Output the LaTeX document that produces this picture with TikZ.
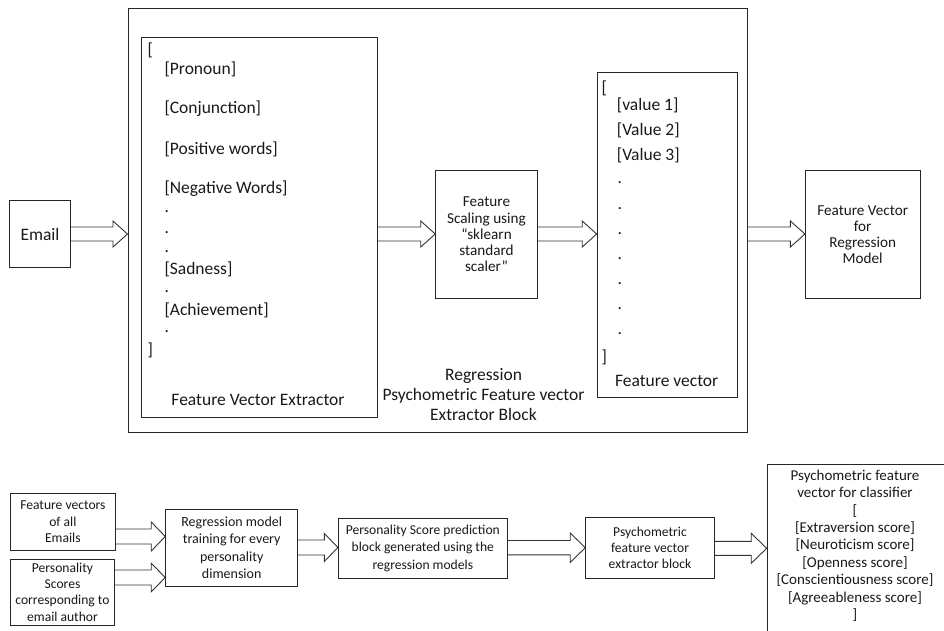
\documentclass[tikz,border=0pt]{standalone}
\usepackage{fontspec}
\setmainfont{Carlito}
\usetikzlibrary{calc}
\tikzset{
  box/.style={draw=black!85, line width=0.9pt, inner sep=0pt, align=center, text=black!90},
  txt/.style={inner sep=0pt, text=black!90},
  fatarr/.style={draw=black!80, line width=0.9pt, line join=miter},
}
% #1 start, #2 end, #3 shaft half width, #4 head half width, #5 head length
\newcommand\fatconn[5]{%
  \draw[fatarr] let \p1=#1, \p2=#2 in
    (\x1,\y2+#3) -- (\x2-#5,\y2+#3) -- (\x2-#5,\y2+#4) -- (\x2,\y2)
    -- (\x2-#5,\y2-#4) -- (\x2-#5,\y2-#3) -- (\x1,\y2-#3);}
\begin{document}
\begin{tikzpicture}[x=1pt,y=-1pt]
\useasboundingbox (0,0) rectangle (944,630);

% ---------------- top part ----------------
\node[box, minimum width=619pt, minimum height=424.5pt, anchor=north west] (outer) at (127.5,7.8) {};
\node[box, minimum width=235.7pt, minimum height=380.3pt, anchor=north west] (fve) at (141,36.7) {};
\node[box, minimum width=61.4pt, minimum height=66.6pt, font=\fontsize{17.5}{20}\selectfont] (email) at (40,234) {Email};
\node[box, minimum width=101.6pt, minimum height=127.6pt, font=\fontsize{15.2}{16.2}\selectfont] (scale) at (486.5,234.5)
  {Feature\\Scaling using\\“sklearn\\standard\\scaler”};
\node[box, minimum width=140.6pt, minimum height=325pt, anchor=north west] (fv) at (596.7,71.7) {};
\node[box, minimum width=114.7pt, minimum height=127.6pt, font=\fontsize{15.2}{16.1}\selectfont] (final) at (862.7,234.5)
  {Feature Vector\\for\\Regression\\Model};

% feature vector extractor contents
\begin{scope}[every node/.style={txt, anchor=west, font=\fontsize{17.5}{20}\selectfont}]
  \node (fb1) at (147.5,50) {[};
  \node (f1) at (164.3,69) {[Pronoun]};
  \node (f2) at (164.3,109) {[Conjunction]};
  \node (f3) at (164.3,149) {[Positive words]};
  \node (f4) at (164.3,189) {[Negative Words]};
  \node (fd1) at (164.3,212) {.};
  \node (fd2) at (164.3,233) {.};
  \node (fd3) at (164.3,252) {.};
  \node (f5) at (164.3,269) {[Sadness]};
  \node (fd4) at (164.3,292) {.};
  \node (f6) at (164.3,310) {[Achievement]};
  \node (fd5) at (164.3,332) {.};
  \node (fb2) at (147.5,350) {]};
\end{scope}
\node[txt, font=\fontsize{17.5}{20}\selectfont] (fvelab) at (258,400) {Feature Vector Extractor};

% feature vector contents
\begin{scope}[every node/.style={txt, anchor=west, font=\fontsize{17.5}{20}\selectfont}]
  \node (vb1) at (601.5,88) {[};
  \node (v1) at (616.7,105.7) {[value 1]};
  \node (v2) at (616.7,130) {[Value 2]};
  \node (v3) at (616.7,155) {[Value 3]};
  \node (vd1) at (617.5,183) {.};
  \node (vd2) at (617.5,209) {.};
  \node (vd3) at (617.5,234) {.};
  \node (vd4) at (617.5,259) {.};
  \node (vd5) at (617.5,284) {.};
  \node (vd6) at (617.5,309) {.};
  \node (vd7) at (617.5,334) {.};
  \node (vb2) at (601.5,357) {]};
\end{scope}
\node[txt, font=\fontsize{17.5}{20}\selectfont] (fvlab) at (666.7,380.7) {Feature vector};

\node[txt, align=center, font=\fontsize{17.5}{20}\selectfont] (blocklab) at (483.5,394.5)
  {Regression\\Psychometric Feature vector\\Extractor Block};

% top arrows
\fatconn{(email.east)}{(outer.west |- email.center)}{7}{13}{14.5}
\fatconn{(fve.east |- email.center)}{(scale.west |- email.center)}{7}{13}{14.5}
\fatconn{(scale.east |- email.center)}{(fv.west |- email.center)}{7}{13}{14.5}
\fatconn{(outer.east |- email.center)}{(final.west |- email.center)}{7}{13}{14.5}

% ---------------- bottom part ----------------
\begin{scope}[every node/.append style={font=\fontsize{13.6}{16.2}\selectfont}]
\node[box, minimum width=104.3pt, minimum height=56.7pt] (allfv) at (62.9,521.7)
  {Feature vectors\\of all\\Emails};
\node[box, minimum width=103.6pt, minimum height=65.7pt] (scores) at (62.5,592.2)
  {Personality\\Scores\\corresponding to\\email author};
\node[box, minimum width=132pt, minimum height=77pt, font=\fontsize{14}{17.4}\selectfont] (train) at (231.7,547.5)
  {Regression model\\training for every\\personality\\dimension};
\node[box, minimum width=169pt, minimum height=60pt, font=\fontsize{13.6}{17.3}\selectfont] (pred) at (422.8,548.3)
  {Personality Score prediction\\block generated using the\\regression models};
\node[box, minimum width=128.6pt, minimum height=60.6pt, font=\fontsize{13.6}{16.3}\selectfont] (psyext) at (650,548)
  {Psychometric\\feature vector\\extractor block};
\node[box, minimum width=185pt, minimum height=185pt, anchor=north west] (psyvec) at (766.7,464) {};
\node[txt, align=center, font=\fontsize{15}{17.4}\selectfont] (psytxt) at (855,545.8)
  {Psychometric feature\\vector for classifier\\{[}\\{[}Extraversion score]\\{[}Neuroticism score]\\{[}Openness score]\\{[}Conscientiousness score]\\{[}Agreeableness score]\\{]}};
\end{scope}

% bottom arrows
\fatconn{(allfv.east |- 0,536.5)}{(train.west |- 0,536.5)}{7.5}{14.5}{14}
\fatconn{(scores.east |- 0,577.5)}{(train.west |- 0,577.5)}{7.5}{14.3}{14}
\fatconn{(train.east |- 0,547.5)}{(pred.west |- 0,547.5)}{7.5}{14}{13.5}
\fatconn{(pred.east |- 0,547.7)}{(psyext.west |- 0,547.7)}{7.2}{14.7}{15}
\fatconn{(psyext.east |- 0,548.3)}{(psyvec.west |- 0,548.3)}{7}{15}{15.5}

\end{tikzpicture}
\end{document}
